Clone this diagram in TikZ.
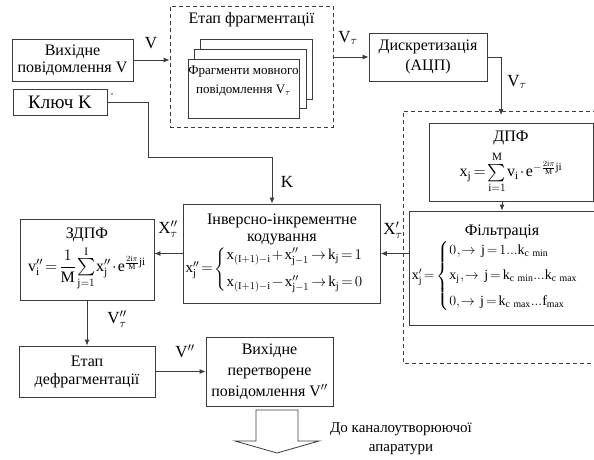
\RequirePackage{fix-cm}
\documentclass[tikz,border=0pt]{standalone}
\usepackage{amsmath}
\usepackage{fontspec}
\setmainfont{Liberation Serif}
\usetikzlibrary{arrows.meta}

\definecolor{linegray}{HTML}{3C3C3C}
\newcommand{\up}[1]{\mathrm{#1}}
\newcommand{\tightmath}{\medmuskip=1.5mu\thickmuskip=2.5mu\thinmuskip=1mu}

\begin{document}
\begin{tikzpicture}[x=1pt,y=-1pt]

\tikzstyle{box_style} = [draw=linegray, line width=0.8, fill=white, inner sep=2pt, align=center, font=\fontsize{16}{17}\selectfont]
\tikzstyle{dash_style} = [draw=linegray, line width=0.8, dash pattern=on 4pt off 3pt]
\tikzstyle{page_style} = [draw=linegray, line width=0.8, fill=white]
\tikzstyle{edge_style} = [draw=linegray, line width=0.8, -{Latex[length=6pt,width=5pt]}]
\tikzstyle{label_style} = [font=\fontsize{17}{17}\selectfont, inner sep=1pt]

\useasboundingbox (0,0) rectangle (594,459);

% top row
\node[box_style, minimum width=121pt, minimum height=42pt] (src) at (72.5,60) {Вихідне\\повідомлення V};
\node[box_style, minimum width=94pt, minimum height=26pt, font=\fontsize{19}{19}\selectfont] (key) at (60,102) {Ключ K};
\fill[linegray] (112,94) circle (0.8);

\node[dash_style, minimum width=163pt, minimum height=121pt] (frag) at (251.5,66.5) {};
\node[font=\fontsize{16}{16}\selectfont] (fragtitle) at (251.5,20) {Етап фрагментації};
\node[page_style, minimum width=112pt, minimum height=60pt] (pg3) at (256,69) {};
\node[page_style, minimum width=112pt, minimum height=59pt] (pg2) at (250,78.5) {};
\node[page_style, minimum width=111pt, minimum height=59pt] (pg1) at (243.5,88.5) {};
\node[align=center, font=\fontsize{13}{19}\selectfont] (fragtxt) at (243.5,81) {Фрагменти мовного\\повідомлення $\up{V}_\tau$};

\node[box_style, minimum width=118pt, minimum height=48pt, font=\fontsize{16}{20}\selectfont] (adc) at (428,57) {Дискретизація\\(АЦП)};

% right block
\draw[dash_style] (597,111) -- (403,111) -- (403,363) -- (597,363);
\node[box_style, minimum width=164pt, minimum height=78pt] (dpf) at (511,162)
  {ДПФ\\[6pt]\tightmath$\up{x}_{\up{j}}=\sum\limits_{\up{i}=1}^{\up{M}}\up{v}_{\up{i}}\cdot\up{e}^{-\frac{2\up{i}\pi}{\up{M}}\up{ji}}$};
\node[box_style, minimum width=182pt, minimum height=114pt] (filt) at (502,268)
  {Фільтрація\\[1pt]\fontsize{14}{16}\selectfont\tightmath
   \mbox{$\up{x}'_{\up{j}}=\begin{cases}0\,,\rightarrow\ \up{j}=1...\up{k}_{\up{c\ min}}\\[6pt]
   \up{x}_{\up{j}}\,,\rightarrow\ \up{j}=\up{k}_{\up{c\ min}}...\up{k}_{\up{c\ max}}\\[6pt]
   0,\rightarrow\ \up{j}=\up{k}_{\up{c\ max}}...\up{f}_{\up{max}}\end{cases}$}};

% middle row
\node[box_style, minimum width=196pt, minimum height=99pt] (inv) at (282,253.5)
  {Інверсно-інкрементне\\кодування\\[-1pt]\fontsize{15}{17}\selectfont\tightmath
   \mbox{$\up{x}''_{\up{j}}=\begin{cases}\up{x}_{(\up{I}+1)-\up{i}}+\up{x}''_{\up{j}-1}\rightarrow\up{k}_{\up{j}}=1\\[7pt]
   \up{x}_{(\up{I}+1)-\up{i}}-\up{x}''_{\up{j}-1}\rightarrow\up{k}_{\up{j}}=0\end{cases}$}};
\node[box_style, minimum width=134pt, minimum height=81pt] (idpf) at (87,259.5)
  {ЗДПФ\\[3pt]\tightmath$\up{v}''_{\up{i}}=\dfrac{1}{\up{M}}\sum\limits_{\up{j}=1}^{\up{I}}\up{x}''_{\up{j}}\cdot\up{e}^{\frac{2\up{i}\pi}{\up{M}}\up{ji}}$};

% bottom row
\node[box_style, minimum width=136pt, minimum height=51pt, font=\fontsize{16}{18}\selectfont] (defrag) at (87,371.5) {Етап\\дефрагментації};
\node[box_style, minimum width=127pt, minimum height=69pt, font=\fontsize{16}{21}\selectfont] (out) at (269.5,371.5) {Вихідне\\перетворене\\повідомлення $\up{V}''$};
\draw[draw=linegray, line width=0.8] (256,410) -- (256,441) -- (235,441) -- (277,453) -- (319,441) -- (298,441) -- (298,410) -- cycle;
\node[align=center, font=\fontsize{15}{19}\selectfont] (dest) at (401,439) {До каналоутворюючої\\апаратури};

\coordinate (kturn) at (148,157);
\coordinate (dpfin) at (501,115);

\draw[edge_style] (src.east) -- (src.east -| frag.west);
\draw[edge_style] (frag.east |- adc.west) -- (adc.west);
\draw[edge_style] (adc.east) -| (dpfin);
\draw[edge_style] (filt.north |- dpf.south) -- (filt.north);
\draw[edge_style] (filt.west |- inv.east) -- (inv.east);
\draw[edge_style] (inv.west) -- (inv.west -| idpf.east);
\draw[edge_style] (key.east) -| (kturn) -| ([xshift=-10pt]inv.north);
\draw[edge_style] (idpf.south) -- (defrag.north);
\draw[edge_style] (defrag.east) -- (out.west);

\node[label_style] (lv) at (151,43) {V};
\node[label_style] (lvt) at (348,38) {$\up{V}_\tau$};
\node[label_style] (lvr) at (517,82) {$\up{V}_\tau$};
\node[label_style] (lk) at (287,182) {K};
\node[label_style] (lx1) at (393,230) {$\up{X}'_\tau$};
\node[label_style] (lx2) at (168,229) {$\up{X}''_\tau$};
\node[label_style] (lv2) at (117,319) {$\up{V}''_\tau$};
\node[label_style] (lv3) at (185,351) {$\up{V}''$};

\end{tikzpicture}
\end{document}
